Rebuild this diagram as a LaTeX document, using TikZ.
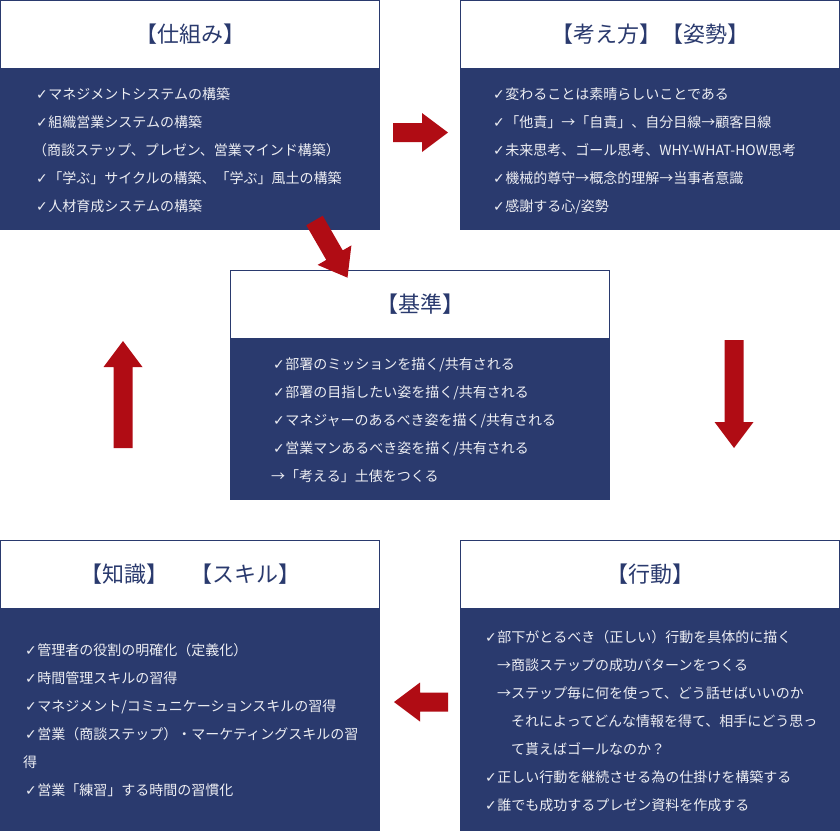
\documentclass[tikz,border=0pt]{standalone}
\usepackage{fontspec}
\setmainfont{Noto Sans CJK JP}
\newfontfamily\symfont{DejaVu Sans}
\usetikzlibrary{positioning}
\definecolor{navy}{HTML}{2A3A6E}
\definecolor{redq}{HTML}{B00C14}
\definecolor{paper}{HTML}{EDEEF3}
\newcommand\chk{{\symfont\fontsize{14}{14}\selectfont ✓}\hspace{0.5pt}}

\begin{document}
\begin{tikzpicture}[x=1pt,y=-1pt,
  head/.style={draw=navy,fill=white,line width=1pt,minimum width=379pt,
    minimum height=68pt,inner sep=0pt,text=navy,font=\fontsize{22}{22}\selectfont},
  body/.style={fill=navy,minimum width=380pt,inner sep=0pt,outer sep=0pt},
  item/.style={anchor=west,inner sep=0pt,text=paper,font=\fontsize{14}{14}\selectfont,
    text height=12pt,text depth=1.5pt}]
  \path[use as bounding box,fill=white] (0,0) rectangle (840,831);

  % 仕組み
  \begin{scope}[shift={(0,0)}]
    \node[head] (shk) at (190,34.5) {【仕組み】};
    \node[body,minimum height=161pt,below=0pt of shk] (shkb) {};
    \foreach \dx/\t [count=\i from 0] in {36/{\chk マネジメントシステムの構築},
      36/{\chk 組織営業システムの構築},
      33/{（商談ステップ、プレゼン、営業マインド構築）},
      36/{\chk 「学ぶ」サイクルの構築、「学ぶ」風土の構築},
      36/{\chk 人材育成システムの構築}}
      \node[item] (shk\i) at (\dx,{94+28*\i}) {\t};
  \end{scope}

  % 考え方・姿勢
  \begin{scope}[shift={(460,0)}]
    \node[head] (kng) at (190,34.5) {【考え方】【姿勢】};
    \node[body,minimum height=161pt,below=0pt of kng] (kngb) {};
    \foreach \dx/\t [count=\i from 0] in {33/{\chk 変わることは素晴らしいことである},
      33/{\chk 「他責」→「自責」、自分目線→顧客目線},
      33/{\chk 未来思考、ゴール思考、WHY-WHAT-HOW思考},
      33/{\chk 機械的尊守→概念的理解→当事者意識},
      33/{\chk 感謝する心/姿勢}}
      \node[item] (kng\i) at (\dx,{94+28*\i}) {\t};
  \end{scope}

  % 基準
  \begin{scope}[shift={(230,270)}]
    \node[head] (kij) at (190,34.5) {【基準】};
    \node[body,minimum height=161pt,below=0pt of kij] (kijb) {};
    \foreach \dx/\t [count=\i from 0] in {43/{\chk 部署のミッションを描く/共有される},
      43/{\chk 部署の目指したい姿を描く/共有される},
      43/{\chk マネジャーのあるべき姿を描く/共有される},
      43/{\chk 営業マンあるべき姿を描く/共有される},
      41/{→「考える」土俵をつくる}}
      \node[item] (kij\i) at (\dx,{94+28*\i}) {\t};
  \end{scope}

  % 知識・スキル
  \begin{scope}[shift={(0,540)}]
    \node[head] (chs) at (190,34.5) {【知識】　【スキル】};
    \node[body,minimum height=222pt,below=0pt of chs] (chsb) {};
    \foreach \dx/\t [count=\i from 0] in {25/{\chk 管理者の役割の明確化（定義化）},
      25/{\chk 時間管理スキルの習得},
      25/{\chk マネジメント/コミュニケーションスキルの習得},
      25/{\chk 営業（商談ステップ）・マーケティングスキルの習},
      23/{得},
      25/{\chk 営業「練習」する時間の習慣化}}
      \node[item] (chs\i) at (\dx,{110+28*\i}) {\t};
  \end{scope}

  % 行動
  \begin{scope}[shift={(460,540)}]
    \node[head] (kdo) at (190,34.5) {【行動】};
    \node[body,minimum height=222pt,below=0pt of kdo] (kdob) {};
    \foreach \dx/\t [count=\i from 0] in {25/{\chk 部下がとるべき（正しい）行動を具体的に描く},
      37/{→商談ステップの成功パターンをつくる},
      37/{→ステップ毎に何を使って、どう話せばいいのか},
      51/{それによってどんな情報を得て、相手にどう思っ},
      51/{て貰えばゴールなのか？},
      25/{\chk 正しい行動を継続させる為の仕掛けを構築する},
      25/{\chk 誰でも成功するプレゼン資料を作成する}}
      \node[item] (kdo\i) at (\dx,{97+28*\i}) {\t};
  \end{scope}

  % block arrows
  \foreach \x/\y/\a/\l in {393/132.5/0/55,734/340/-90/108,448/702/180/54,
    123/448/90/107,314.5/220.5/-60/66}
    \fill[redq,shift={(\x,\y)},rotate=\a] (0,-9.5) -- ({\l-26},-9.5)
      -- ({\l-26},-19.5) -- (\l,0) -- ({\l-26},19.5) -- ({\l-26},9.5)
      -- (0,9.5) -- cycle;
\end{tikzpicture}
\end{document}
